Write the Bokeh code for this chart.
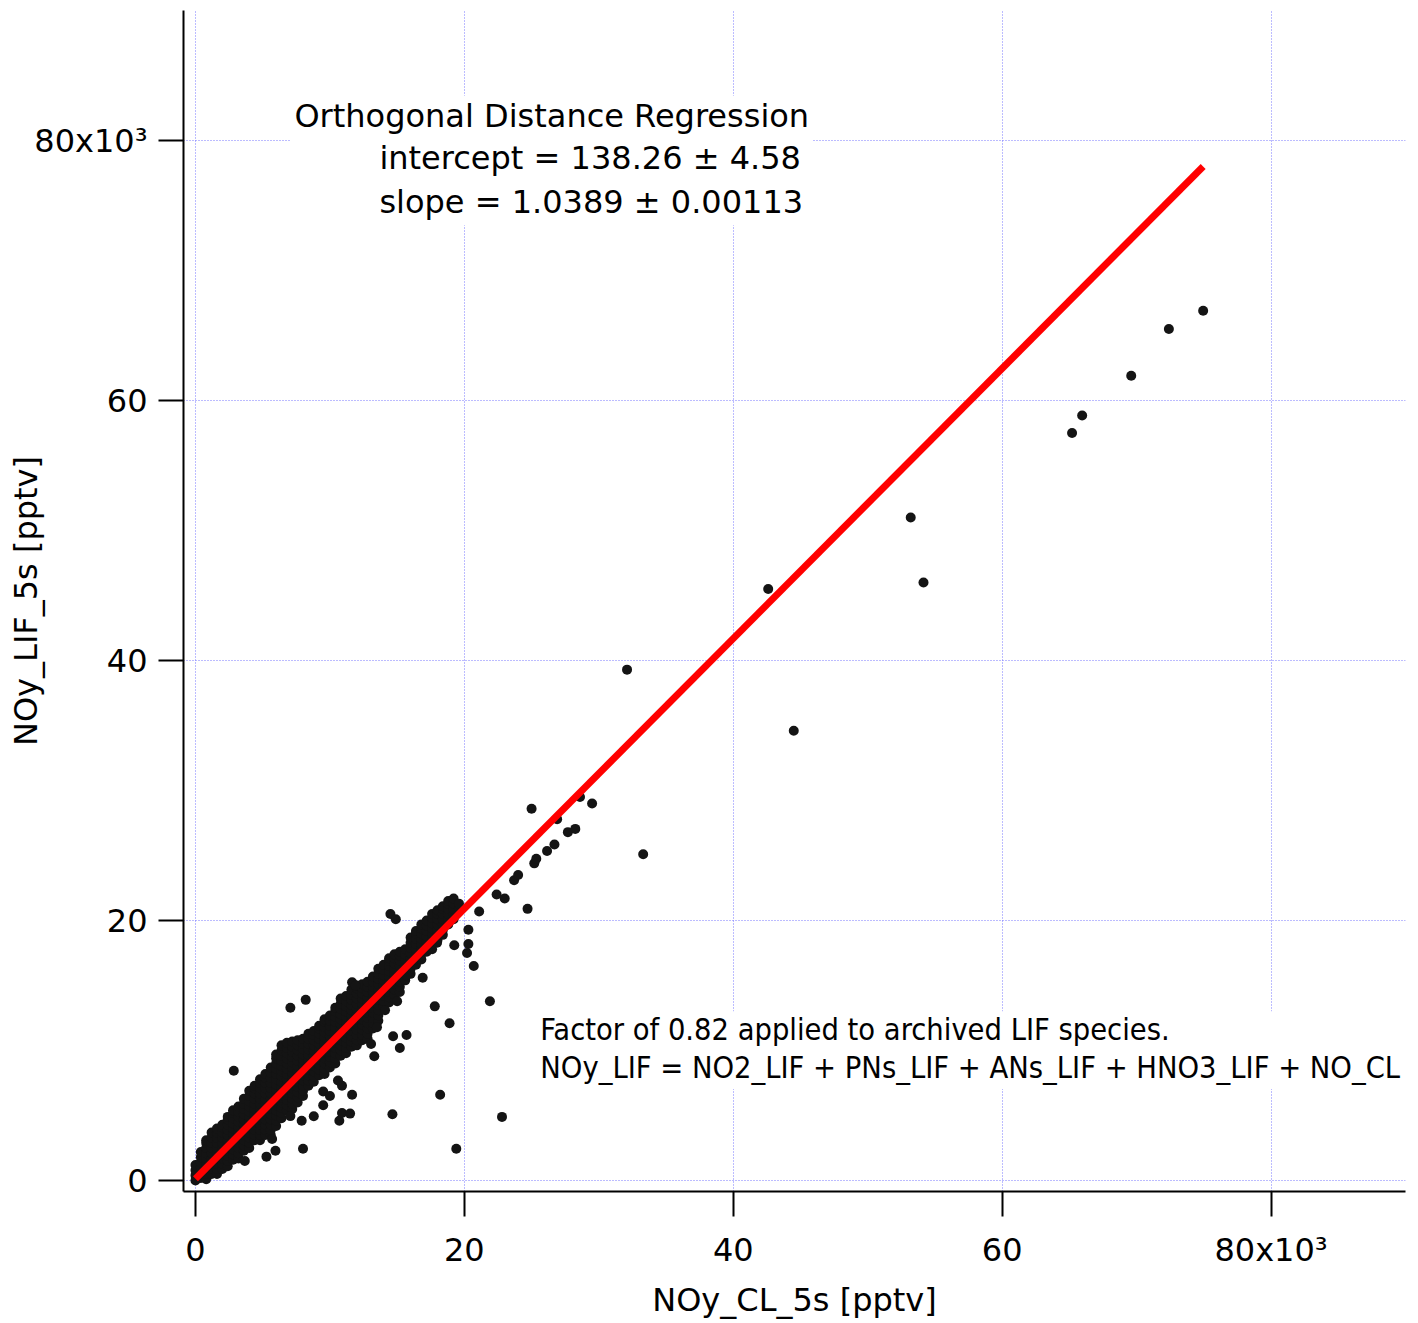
import math
from bokeh.plotting import figure
from bokeh.models import Range1d, FixedTicker, Label, BoxAnnotation
from bokeh.embed import file_html
from bokeh.resources import INLINE

# ---------------- data (pptv) ----------------
# dense core of the cloud, listed column by column (x value, then the y values seen in that column)
cloud_col_x = [0, 400, 800, 1200, 1600, 2000, 2400, 2800, 3200, 3600,
               4000, 4400, 4800, 5200, 5600, 6000, 6400, 6800, 7200, 7600,
               8000, 8400, 8800, 9200, 9600, 10000, 10400, 10800, 11200, 11600,
               12000, 12400, 12800, 13200, 13600, 14000, 14400, 14800, 15200, 15600,
               16000, 16400, 16800, 17200, 17600, 18000, 18400, 18800, 19200, 19600]
cloud_col_y = [
    [0, 400, 800, 1200],
    [200, 600, 1000, 1400, 1800, 2200],
    [100, 500, 900, 1300, 1700, 2100, 2500, 2900, 3100],
    [500, 900, 1300, 1700, 2100, 2500, 2900, 3300, 3700],
    [500, 900, 1300, 1700, 2100, 2500, 2900, 3300, 3700, 4000],
    [900, 1300, 1700, 2100, 2500, 2900, 3300, 3700, 4100, 4300],
    [1100, 1500, 1900, 2300, 2700, 3100, 3500, 3900, 4300, 4700, 4900],
    [1600, 2000, 2400, 2800, 3200, 3600, 4000, 4400, 4800, 5200, 5400],
    [1700, 2100, 2500, 2900, 3300, 3700, 4100, 4500, 4900, 5300, 5700],
    [2300, 2700, 3100, 3500, 3900, 4300, 4700, 5100, 5500, 5900, 6300],
    [2500, 2900, 3300, 3700, 4100, 4500, 4900, 5300, 5700, 6100, 6500, 6900],
    [3100, 3500, 3900, 4300, 4700, 5100, 5500, 5900, 6300, 6700, 7100, 7300],
    [3100, 3500, 3900, 4300, 4700, 5100, 5500, 5900, 6300, 6700, 7100, 7500, 7800],
    [3500, 3900, 4300, 4700, 5100, 5500, 5900, 6300, 6700, 7100, 7500, 7900, 8200],
    [3500, 3900, 4300, 4700, 5100, 5500, 5900, 6300, 6700, 7100, 7500, 7900, 8300, 8700],
    [4200, 4600, 5000, 5400, 5800, 6200, 6600, 7000, 7400, 7800, 8200, 8600, 9000, 9400, 9700],
    [4800, 5200, 5600, 6000, 6400, 6800, 7200, 7600, 8000, 8400, 8800, 9200, 9600, 10000, 10400],
    [5400, 5800, 6200, 6600, 7000, 7400, 7800, 8200, 8600, 9000, 9400, 9800, 10200, 10600],
    [5500, 5900, 6300, 6700, 7100, 7500, 7900, 8300, 8700, 9100, 9500, 9900, 10300, 10700],
    [6000, 6400, 6800, 7200, 7600, 8000, 8400, 8800, 9200, 9600, 10000, 10400, 10800],
    [6500, 6900, 7300, 7700, 8100, 8500, 8900, 9300, 9700, 10100, 10500, 10900],
    [7300, 7700, 8100, 8500, 8900, 9300, 9700, 10100, 10500, 10900, 11300],
    [7600, 8000, 8400, 8800, 9200, 9600, 10000, 10400, 10800, 11200, 11500],
    [8100, 8500, 8900, 9300, 9700, 10100, 10500, 10900, 11300, 11700, 11900],
    [8200, 8600, 9000, 9400, 9800, 10200, 10600, 11000, 11400, 11800, 12200, 12400],
    [8700, 9100, 9500, 9900, 10300, 10700, 11100, 11500, 11900, 12300, 12700],
    [9000, 9400, 9800, 10200, 10600, 11000, 11400, 11800, 12200, 12600, 13000, 13300],
    [9600, 10000, 10400, 10800, 11200, 11600, 12000, 12400, 12800, 13200, 13600, 14000],
    [9800, 10200, 10600, 11000, 11400, 11800, 12200, 12600, 13000, 13400, 13800, 14200],
    [10300, 10700, 11100, 11500, 11900, 12300, 12700, 13100, 13500, 13900, 14300, 14700],
    [10400, 10800, 11200, 11600, 12000, 12400, 12800, 13200, 13600, 14000, 14400, 14800, 15000],
    [10800, 11200, 11600, 12000, 12400, 12800, 13200, 13600, 14000, 14400, 14800, 15100],
    [10900, 11300, 11700, 12100, 12500, 12900, 13300, 13700, 14100, 14500, 14900, 15300],
    [11700, 12100, 12500, 12900, 13300, 13700, 14100, 14500, 14900, 15300, 15700],
    [12300, 12700, 13100, 13500, 13900, 14300, 14700, 15100, 15500, 15900, 16300],
    [13400, 13800, 14200, 14600, 15000, 15400, 15800, 16200, 16600],
    [13700, 14100, 14500, 14900, 15300, 15700, 16100, 16500, 16900, 17100],
    [14300, 14700, 15100, 15500, 15900, 16300, 16700, 17100, 17400],
    [14500, 14900, 15300, 15700, 16100, 16500, 16900, 17300, 17600],
    [15400, 15800, 16200, 16600, 17000, 17400, 17800],
    [15900, 16300, 16700, 17100, 17500, 17900, 18300, 18700],
    [16600, 17000, 17400, 17800, 18200, 18600, 19000, 19200],
    [17000, 17400, 17800, 18200, 18600, 19000, 19400, 19700],
    [17600, 18000, 18400, 18800, 19200, 19600, 20000],
    [17800, 18200, 18600, 19000, 19400, 19800, 20200, 20500],
    [18500, 18900, 19300, 19700, 20100, 20500, 20800],
    [18900, 19300, 19700, 20100, 20500, 20900, 21100],
    [19700, 20100, 20500, 20900, 21300, 21500],
    [20100, 20500, 20900, 21300, 21700],
    [20900, 21300],
]

# scattered points outside the dense core
scatter_x = [14500, 14900, 8200, 7060, 2850, 11650, 11900,
             3670, 5280, 5950, 5700, 8000, 7060, 7900, 8800, 9500, 9500, 10000,
             10700, 10900, 11500, 10900, 11650, 10600, 13060, 13300, 13500, 14100,
             15000, 14700, 15200, 15700, 14650, 15700, 16900, 16700, 17800, 18200,
             18900, 19400, 17970, 19250, 20300, 20300, 20200, 20700, 21100, 21900,
             22400, 23000, 22800, 23700, 24000, 24700, 25200, 25350, 26150, 26700,
             26900, 27700, 28250, 25000, 28600, 29500, 33300, 32100, 42600, 44500,
             53200, 54150, 65200, 65950, 69600, 72400, 74950]
scatter_y = [20500, 20100, 13900, 13300, 8450, 15250, 15000,
             1500, 1840, 2300, 3200, 2450, 4960, 4600, 4950, 5800, 6850, 6500,
             4600, 5200, 5150, 7300, 6600, 7700, 10500, 9560, 11800, 13100,
             13800, 11100, 10200, 11200, 5100, 15800, 15600, 17200, 13400, 6600,
             12100, 2450, 18300, 18100, 19300, 18200, 17500, 16500, 20700, 13800,
             22000, 21700, 4900, 23100, 23500, 20900, 24400, 24750, 25350, 25850,
             27800, 26800, 27050, 28600, 29500, 29000, 25100, 39300, 45500, 34600,
             51000, 46000, 57500, 58850, 61900, 65500, 66900]

# orthogonal distance regression result
fit_intercept = 138.26
fit_slope = 1.0389

tick_values = [0, 20000, 40000, 60000, 80000]
tick_labels = ["0", "20", "40", "60", "80x10³"]

x_title = "NOy_CL_5s [pptv]"
y_title = "NOy_LIF_5s [pptv]"
fit_lines = ["Orthogonal Distance Regression",
             "intercept = 138.26 ± 4.58",
             "slope = 1.0389 ± 0.00113"]
note_lines = ["Factor of 0.82 applied to archived LIF species.",
              "NOy_LIF = NO2_LIF + PNs_LIF + ANs_LIF + HNO3_LIF + NO_CL"]

# ---------------- build ----------------
all_x, all_y = [], []
for cx, ys in zip(cloud_col_x, cloud_col_y):
    for cy in ys:
        all_x.append(cx)
        all_y.append(cy)
all_x += scatter_x
all_y += scatter_y

X0, X1 = -890, 90000
Y0, Y1 = -840, 90000

W, H = 1416, 1321
p = figure(width=W, height=H,
           x_range=Range1d(X0, X1), y_range=Range1d(Y0, Y1),
           output_backend="svg", toolbar_location=None,
           min_border_left=183, min_border_right=W - 1405,
           min_border_top=10, min_border_bottom=H - 1195)
p.outline_line_color = None
p.background_fill_color = "white"
p.border_fill_color = "white"

# page-pixel -> data helpers (for annotation placement only)
def dx(px):
    return (px - 195) * 20000.0 / 269.0

def dy(py):
    return (1184 - py) * 20000.0 / 261.0

FONT = "DejaVu Sans"
overrides = {float(v): t for v, t in zip(tick_values, tick_labels)}
for ax in (p.xaxis[0], p.yaxis[0]):
    ax.ticker = FixedTicker(ticks=tick_values)
    ax.major_label_overrides = overrides
    ax.axis_line_width = 2
    ax.axis_line_color = "black"
    ax.major_tick_line_width = 2
    ax.major_tick_line_color = "black"
    ax.major_tick_out = 25
    ax.major_tick_in = 0
    ax.minor_tick_line_color = None
    ax.major_label_text_font = FONT
    ax.major_label_text_font_size = "32px"
    ax.major_label_text_color = "black"
    ax.axis_label_text_font = FONT
    ax.axis_label_text_font_size = "32px"
    ax.axis_label_text_font_style = "normal"
    ax.axis_label_text_color = "black"
p.xaxis[0].major_label_standoff = 14
p.yaxis[0].major_label_standoff = 11
p.yaxis[0].major_label_orientation = "horizontal"
p.xaxis[0].axis_label = x_title
p.yaxis[0].axis_label = y_title
p.xaxis[0].axis_label_standoff = 9
p.yaxis[0].axis_label_standoff = -14

for g in (p.xgrid[0], p.ygrid[0]):
    g.ticker = FixedTicker(ticks=tick_values)
    g.grid_line_color = "#7878ff"
    g.grid_line_alpha = 1.0
    g.grid_line_width = 1
    g.grid_line_dash = "1 2"

p.scatter(all_x, all_y, size=10, fill_color="#141414", line_color=None, marker="circle")

fx = [min(all_x), max(all_x)]
fy = [fit_intercept + fit_slope * v for v in fx]
p.line(fx, fy, line_color="#ff0000", line_width=7)

# white text boxes
p.add_layout(BoxAnnotation(left=dx(290), right=dx(812), top=dy(95), bottom=dy(225),
                           fill_color="white", fill_alpha=1.0, line_color=None))
p.add_layout(BoxAnnotation(left=dx(530), right=dx(1420), top=dy(1014), bottom=dy(1092),
                           fill_color="white", fill_alpha=1.0, line_color=None))

def add_text(txt, x, y, size, font=FONT, align="left"):
    p.add_layout(Label(x=x, y=y, text=txt, text_font=font, text_font_size=size,
                       text_color="black", text_align=align, text_baseline="middle"))

add_text(fit_lines[0], dx(294), dy(115), "32px")
add_text(fit_lines[1], dx(379), dy(158), "32px")
add_text(fit_lines[2], dx(379), dy(202), "32px")

add_text(note_lines[0], dx(540), dy(1032), "30.5px", font="DejaVu Sans Condensed")
add_text(note_lines[1], dx(540), dy(1070), "30.5px", font="DejaVu Sans Condensed")

open("out.html", "w").write(file_html(p, INLINE))
